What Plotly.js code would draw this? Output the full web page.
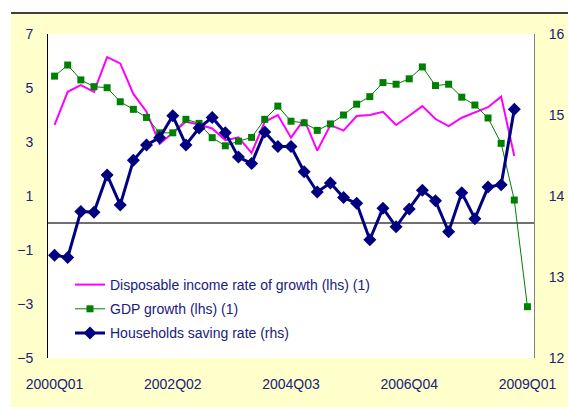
<!DOCTYPE html>
<html>
<head>
<meta charset="utf-8">
<script src="https://cdn.plot.ly/plotly-3.0.1.min.js"></script>
<style>html,body{margin:0;padding:0;background:#fff;}#chart{width:568px;height:407px;}</style>
</head>
<body>
<div id="chart"></div>
<script>
var quarters = [
  "2000Q01","2000Q02","2000Q03","2000Q04",
  "2001Q01","2001Q02","2001Q03","2001Q04",
  "2002Q01","2002Q02","2002Q03","2002Q04",
  "2003Q01","2003Q02","2003Q03","2003Q04",
  "2004Q01","2004Q02","2004Q03","2004Q04",
  "2005Q01","2005Q02","2005Q03","2005Q04",
  "2006Q01","2006Q02","2006Q03","2006Q04",
  "2007Q01","2007Q02","2007Q03","2007Q04",
  "2008Q01","2008Q02","2008Q03","2008Q04",
  "2009Q01"
];
var tickLabels = ["2000Q01","2002Q02","2004Q03","2006Q04","2009Q01"];

var disposableIncome = [3.63,4.86,5.11,4.86,6.14,5.91,4.78,4.12,2.93,3.35,
  3.75,3.65,3.50,3.07,3.17,2.60,3.75,4.00,3.16,3.84,
  2.68,3.63,3.42,3.96,4.00,4.12,3.63,3.97,4.33,3.85,
  3.59,3.90,4.10,4.29,4.68,2.48];

var gdpGrowth = [5.44,5.85,5.30,5.05,5.01,4.49,4.21,3.91,3.34,3.34,
  3.84,3.69,3.16,2.86,3.03,3.17,3.84,4.33,3.77,3.71,
  3.43,3.67,4.00,4.40,4.68,5.20,5.14,5.34,5.78,5.09,
  5.14,4.66,4.37,3.89,2.95,0.85,-3.10];

var savingRate = [13.27,13.24,13.81,13.80,14.26,13.89,14.44,14.63,14.72,14.99,
  14.63,14.84,14.97,14.78,14.48,14.40,14.79,14.61,14.61,14.30,
  14.05,14.16,13.98,13.91,13.46,13.85,13.62,13.84,14.07,13.94,
  13.56,14.04,13.72,14.11,14.14,15.07];

var names = ["Disposable income rate of growth (lhs) (1)", "GDP growth (lhs) (1)", "Households saving rate (rhs)"];

// layout geometry (pixels)
var W = 568, H = 407, L = 48, R = 534, T = 34, B = 358;
function fx(px){ return (px - L) / (R - L); }
function fy(py){ return (B - py) / (B - T); }

var navyText = '#20207A';

var traces = [
  {x: quarters.slice(0, disposableIncome.length), y: disposableIncome, name: names[0], type: 'scatter', mode: 'lines',
   line: {color: '#FF00FF', width: 2}, legendgroup: 'a', yaxis: 'y'},
  {x: quarters.slice(0, gdpGrowth.length), y: gdpGrowth, name: names[1], type: 'scatter', mode: 'lines+markers',
   line: {color: '#008000', width: 1}, marker: {symbol: 'square', size: 7, color: '#008000'}, legendgroup: 'b', yaxis: 'y'},
  {x: quarters.slice(0, savingRate.length), y: savingRate, name: names[2], type: 'scatter', mode: 'lines+markers',
   line: {color: '#000080', width: 3}, marker: {symbol: 'diamond', size: 10, color: '#000080'}, legendgroup: 'c', yaxis: 'y2'}
];

var layout = {
  width: W, height: H,
  margin: {l: L, r: W - R, t: T, b: H - B, pad: 0},
  paper_bgcolor: '#FFFFCC',
  plot_bgcolor: '#FFFFFF',
  font: {family: 'Arial, "Liberation Sans", sans-serif', size: 14, color: navyText},
  showlegend: true,
  legend: {x: fx(70), y: fy(269), xanchor: 'left', yanchor: 'top', bgcolor: 'rgba(0,0,0,0)',
           tracegroupgap: 3, traceorder: 'grouped', font: {size: 14, color: navyText}},
  xaxis: {type: 'category', categoryorder: 'array', categoryarray: quarters,
          range: [-0.5, quarters.length - 0.5],
          tickmode: 'array', tickvals: tickLabels, ticktext: tickLabels,
          showgrid: false, zeroline: false, showline: false, ticks: '',
          ticklabelstandoff: 16, tickfont: {size: 14, color: navyText}},
  yaxis: {range: [-5, 7], dtick: 2, tick0: -5, showgrid: false,
          zeroline: true, zerolinecolor: '#707070', zerolinewidth: 1.3,
          showline: true, linecolor: '#000000', linewidth: 1, ticks: '',
          ticklabelstandoff: 11, tickfont: {size: 14, color: navyText}},
  yaxis2: {range: [12, 16], dtick: 1, overlaying: 'y', side: 'right', showgrid: false,
           zeroline: false, showline: true, linecolor: '#808080', linewidth: 1, ticks: '',
           ticklabelstandoff: 11, tickfont: {size: 14, color: navyText}},
  shapes: [
    {type: 'rect', xref: 'paper', yref: 'paper', x0: fx(0), x1: fx(W), y0: fy(13), y1: fy(0),
     fillcolor: '#FFFFFF', line: {width: 0}, layer: 'below'},
    {type: 'rect', xref: 'paper', yref: 'paper', x0: fx(0), x1: fx(11), y0: fy(H), y1: fy(13),
     fillcolor: '#FFFFFF', line: {width: 0}, layer: 'below'},
    {type: 'line', xref: 'paper', yref: 'paper', x0: fx(11), x1: fx(W), y0: fy(13), y1: fy(13),
     line: {color: '#000000', width: 1.5}}
  ]
};

Plotly.newPlot('chart', traces, layout, {displayModeBar: false, staticPlot: true});
</script>
</body>
</html>
